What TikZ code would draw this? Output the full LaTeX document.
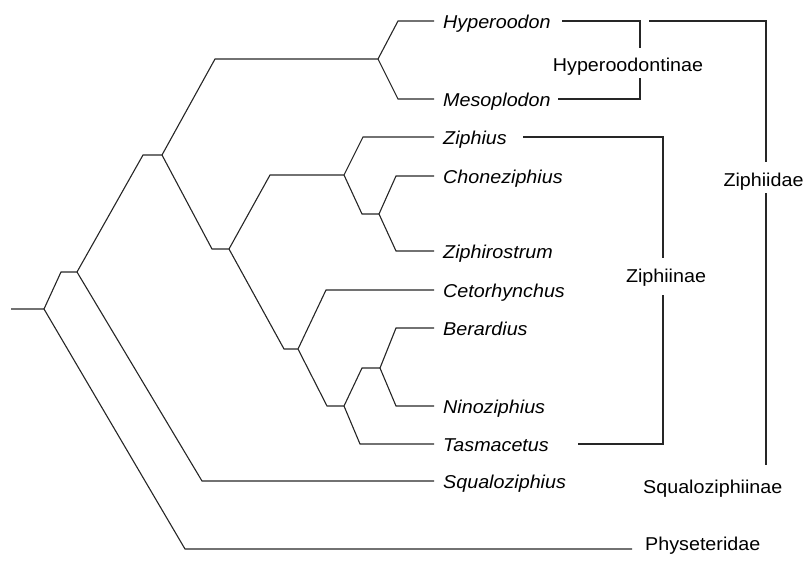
\documentclass[tikz,border=0pt]{standalone}
\usepackage{fontspec}
\setmainfont{Liberation Sans}[FakeStretch=1.06]
\begin{document}
\begin{tikzpicture}[x=1pt,y=-1pt,
  branch/.style={draw=black!85,line width=1.1pt,line join=miter},
  taxon/.style={font=\fontsize{18.6}{22}\selectfont\itshape,inner sep=0pt,anchor=base west},
  group/.style={font=\fontsize{18.6}{22}\selectfont,inner sep=0pt,anchor=base}]
\useasboundingbox (0,0) rectangle (805,560);

% internal nodes of the tree (each drawn as a short horizontal shoulder)
\coordinate (s0) at (11,309);  \coordinate (r)  at (44,309);
\coordinate (a1) at (61,272);  \coordinate (a2) at (77,272);
\coordinate (b1) at (143,155); \coordinate (b2) at (162,155);
\coordinate (c1) at (215,59);  \coordinate (c2) at (378,59);
\coordinate (d1) at (212,249); \coordinate (d2) at (229,249);
\coordinate (e1) at (270,175); \coordinate (e2) at (344,175);
\coordinate (f1) at (362,214); \coordinate (f2) at (379,214);
\coordinate (g1) at (284,349); \coordinate (g2) at (298,349);
\coordinate (h1) at (327,406); \coordinate (h2) at (344,406);
\coordinate (i1) at (362,368); \coordinate (i2) at (380,368);

% leaf elbows and line ends
\coordinate (hyK) at (398,21);  \coordinate (hyE) at (434,21);
\coordinate (meK) at (398,99);  \coordinate (meE) at (434,99);
\coordinate (ziK) at (363,137); \coordinate (ziE) at (434,137);
\coordinate (chK) at (396,176); \coordinate (chE) at (434,176);
\coordinate (zrK) at (396,251); \coordinate (zrE) at (434,251);
\coordinate (ceK) at (326,290); \coordinate (ceE) at (434,290);
\coordinate (beK) at (396,328); \coordinate (beE) at (434,328);
\coordinate (niK) at (396,406); \coordinate (niE) at (434,406);
\coordinate (taK) at (360,444); \coordinate (taE) at (434,444);
\coordinate (sqK) at (202,481); \coordinate (sqE) at (434,481);
\coordinate (phK) at (185,549); \coordinate (phE) at (632,549);

% taxon names
\node[taxon] (hyp) at (443,28)  {Hyperoodon};
\node[taxon] (mes) at (443,106) {Mesoplodon};
\node[taxon] (zip) at (443,144) {Ziphius};
\node[taxon] (cho) at (443,183) {Choneziphius};
\node[taxon] (zir) at (443,258) {Ziphirostrum};
\node[taxon] (cet) at (443,297) {Cetorhynchus};
\node[taxon] (ber) at (443,335) {Berardius};
\node[taxon] (nin) at (443,413) {Ninoziphius};
\node[taxon] (tas) at (443,451) {Tasmacetus};
\node[taxon] (squ) at (443,488) {Squaloziphius};
\node[group,anchor=base west] (phy) at (645,550) {Physeteridae};

% tree
\draw[branch] (s0) -- (r) -- (a1) -- (a2) -- (b1) -- (b2) -- (c1) -- (c2) -- (hyK) -- (hyE);
\draw[branch] (c2) -- (meK) -- (meE);
\draw[branch] (b2) -- (d1) -- (d2) -- (e1) -- (e2) -- (ziK) -- (ziE);
\draw[branch] (e2) -- (f1) -- (f2) -- (chK) -- (chE);
\draw[branch] (f2) -- (zrK) -- (zrE);
\draw[branch] (d2) -- (g1) -- (g2) -- (ceK) -- (ceE);
\draw[branch] (g2) -- (h1) -- (h2) -- (i1) -- (i2) -- (beK) -- (beE);
\draw[branch] (i2) -- (niK) -- (niE);
\draw[branch] (h2) -- (taK) -- (taE);
\draw[branch] (a2) -- (sqK) -- (sqE);
\draw[branch] (r) -- (phK) -- (phE);

% group labels
\node[group] (hypo) at (628,71)  {Hyperoodontinae};
\node[group] (zidae) at (763.5,186) {Ziphiidae};
\node[group] (zinae) at (666,282) {Ziphiinae};
\node[group,anchor=base west] (sqinae) at (643,493) {Squaloziphiinae};

% brackets
\coordinate (hb1) at (562,21);  \coordinate (hb2) at (640,21);
\coordinate (hb3) at (640,48);  \coordinate (hb4) at (640,78);
\coordinate (hb5) at (640,99);  \coordinate (hb6) at (558,99);
\draw[branch] (hb1) -- (hb2) -- (hb3);
\draw[branch] (hb4) -- (hb5) -- (hb6);

\coordinate (zb1) at (649,21);  \coordinate (zb2) at (766,21);
\coordinate (zb3) at (766,162); \coordinate (zb4) at (766,193);
\coordinate (zb5) at (766,465);
\draw[branch] (zb1) -- (zb2) -- (zb3);
\draw[branch] (zb4) -- (zb5);

\coordinate (nb1) at (523,137); \coordinate (nb2) at (663,137);
\coordinate (nb3) at (663,258); \coordinate (nb4) at (663,295);
\coordinate (nb5) at (663,444); \coordinate (nb6) at (578,444);
\draw[branch] (nb1) -- (nb2) -- (nb3);
\draw[branch] (nb4) -- (nb5) -- (nb6);
\end{tikzpicture}
\end{document}
